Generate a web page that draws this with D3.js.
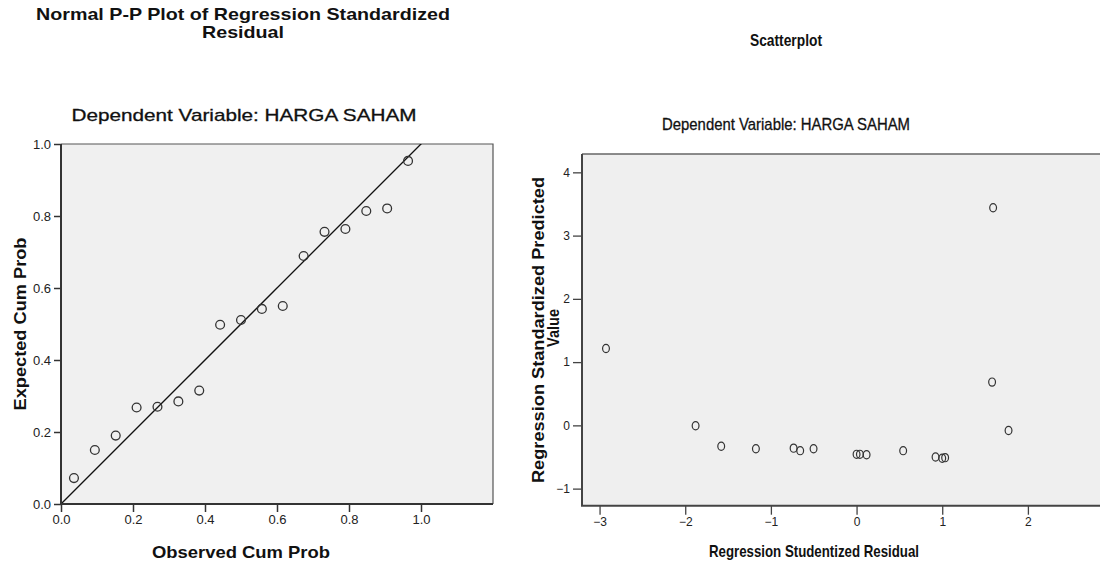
<!DOCTYPE html>
<html>
<head>
<meta charset="utf-8">
<script src="https://cdn.jsdelivr.net/npm/d3@7"></script>
<style>
  body { margin: 0; background: #fff; }
  svg { display: block; }
  text { font-family: "Liberation Sans", Arial, sans-serif; fill: #111; }
  .narrow text, text.narrow { font-family: "Liberation Sans Narrow", "Arial Narrow", "Liberation Sans", Arial, sans-serif; }
</style>
</head>
<body>
<div id="chart"></div>
<script>

// ─── DATA ───────────────────────────────────────────────────────────────────────
// P-P plot (observed vs expected cum prob)
let observedCumProb = [0.036, 0.094, 0.152, 0.210, 0.268, 0.326, 0.384, 0.442, 0.500,
                       0.558, 0.616, 0.674, 0.732, 0.790, 0.848, 0.906, 0.964];
let expectedCumProb = [0.072, 0.150, 0.190, 0.268, 0.270, 0.285, 0.315, 0.498, 0.511,
                       0.542, 0.550, 0.689, 0.756, 0.764, 0.814, 0.821, 0.953];
let ppTicks = [0, 0.2, 0.4, 0.6, 0.8, 1.0];

// scatterplot (studentized residual vs standardized predicted)
let studentizedResidual = [-2.925, -1.879, -1.580, -1.175, -0.735, -0.658, -0.502, 0.000, 0.039,
                           0.117, 0.544, 0.922, 1.000, 1.034, 1.582, 1.594, 1.774];
let standardizedPredicted = [1.216, -0.006, -0.330, -0.370, -0.360, -0.400, -0.370, -0.458, -0.458,
                             -0.464, -0.400, -0.500, -0.520, -0.510, 0.684, 3.440, -0.080];
let scatterXTicks = [-3, -2, -1, 0, 1, 2];
let scatterYTicks = [-1, 0, 1, 2, 3, 4];

// ─── SVG CANVAS ─────────────────────────────────────────────────────────────────
let width = 1100, height = 562;

let svg = d3.select('#chart')
    .append('svg')
    .attr('width', width)
    .attr('height', height)
    .style('background', '#fff');

// ─── LEFT CHART : NORMAL P-P PLOT ───────────────────────────────────────────────
let ppBox = {left: 61, right: 493, top: 144, bottom: 504};

let xPP = d3.scaleLinear().domain([0, 1.2]).range([ppBox.left, ppBox.right]);
let yPP = d3.scaleLinear().domain([0, 1]).range([ppBox.bottom, ppBox.top]);

let pp = svg.append('g');

// plot background
pp.append('rect')
    .attr('x', ppBox.left)
    .attr('y', ppBox.top)
    .attr('width', ppBox.right - ppBox.left)
    .attr('height', ppBox.bottom - ppBox.top)
    .attr('fill', '#f0f0f0');

// top / right frame
pp.append('path')
    .attr('d', `M${ppBox.left},${ppBox.top}H${ppBox.right}V${ppBox.bottom}`)
    .attr('fill', 'none')
    .attr('stroke', '#555')
    .attr('stroke-width', 1.2);

// clip for the diagonal
svg.append('clipPath').attr('id', 'ppClip')
    .append('rect')
    .attr('x', ppBox.left).attr('y', ppBox.top)
    .attr('width', ppBox.right - ppBox.left)
    .attr('height', ppBox.bottom - ppBox.top);

// reference line y = x
pp.append('line')
    .attr('clip-path', 'url(#ppClip)')
    .attr('x1', xPP(0)).attr('y1', yPP(0))
    .attr('x2', xPP(1.2)).attr('y2', yPP(1.2))
    .attr('stroke', '#111')
    .attr('stroke-width', 1.3);

// Y axis
let yAxisPP = d3.axisLeft(yPP).tickValues(ppTicks).tickFormat(d3.format('.1f')).tickSize(7).tickPadding(3);
pp.append('g')
    .attr('transform', `translate(${ppBox.left},0)`)
    .call(yAxisPP)
    .call(g => g.select('.domain').remove())
    .call(g => g.selectAll('line').attr('stroke', '#333').attr('stroke-width', 1.5))
    .call(g => g.selectAll('text').style('font-size', '13px').style('fill', '#222'));

// X axis
let xAxisPP = d3.axisBottom(xPP).tickValues(ppTicks).tickFormat(d3.format('.1f')).tickSize(8).tickPadding(3);
pp.append('g')
    .attr('transform', `translate(0,${ppBox.bottom})`)
    .call(xAxisPP)
    .call(g => g.select('.domain').remove())
    .call(g => g.selectAll('line').attr('stroke', '#333').attr('stroke-width', 1.5))
    .call(g => g.selectAll('text').style('font-size', '13px').style('fill', '#222'));

// axis lines (thicker, dark)
pp.append('path')
    .attr('d', `M${ppBox.left},${ppBox.top}V${ppBox.bottom}H${ppBox.right}`)
    .attr('fill', 'none')
    .attr('stroke', '#333')
    .attr('stroke-width', 2);

// points
pp.selectAll('circle')
    .data(observedCumProb)
    .enter().append('circle')
    .attr('cx', d => xPP(d))
    .attr('cy', (d, i) => yPP(expectedCumProb[i]))
    .attr('r', 4.4)
    .attr('fill', 'none')
    .attr('stroke', '#333')
    .attr('stroke-width', 1.3);

// ─── LEFT TEXT LABELS ───────────────────────────────────────────────────────────
pp.append('text')
    .attr('x', 243).attr('y', 20)
    .attr('text-anchor', 'middle')
    .attr('textLength', 414).attr('lengthAdjust', 'spacingAndGlyphs')
    .style('font-size', '17px').style('font-weight', 'bold')
    .text('Normal P-P Plot of Regression Standardized');

pp.append('text')
    .attr('x', 243).attr('y', 38)
    .attr('text-anchor', 'middle')
    .attr('textLength', 82).attr('lengthAdjust', 'spacingAndGlyphs')
    .style('font-size', '17px').style('font-weight', 'bold')
    .text('Residual');

pp.append('text')
    .attr('x', 244).attr('y', 121)
    .attr('text-anchor', 'middle')
    .attr('textLength', 345).attr('lengthAdjust', 'spacingAndGlyphs')
    .style('font-size', '17px')
    .style('stroke', '#111').style('stroke-width', 0.3)
    .text('Dependent Variable: HARGA SAHAM');

// X LABEL
pp.append('text')
    .attr('x', 241).attr('y', 558)
    .attr('text-anchor', 'middle')
    .attr('textLength', 178).attr('lengthAdjust', 'spacingAndGlyphs')
    .style('font-size', '17px').style('font-weight', 'bold')
    .text('Observed Cum Prob');

// Y LABEL
pp.append('text')
    .attr('transform', `translate(26, 324) rotate(-90)`)
    .attr('text-anchor', 'middle')
    .attr('textLength', 173).attr('lengthAdjust', 'spacingAndGlyphs')
    .style('font-size', '17px').style('font-weight', 'bold')
    .text('Expected Cum Prob');

// ─── RIGHT CHART : SCATTERPLOT ──────────────────────────────────────────────────
let scBox = {left: 582, right: 1105, top: 154, bottom: 505.7};

let xSc = d3.scaleLinear().domain([-3.205, 2.9]).range([scBox.left, scBox.right]);
let ySc = d3.scaleLinear().domain([-1.27, 4.29]).range([scBox.bottom, scBox.top]);

let sc = svg.append('g').attr('class', 'narrow');

sc.append('rect')
    .attr('x', scBox.left)
    .attr('y', scBox.top)
    .attr('width', scBox.right - scBox.left)
    .attr('height', scBox.bottom - scBox.top)
    .attr('fill', '#efefef');

sc.append('path')
    .attr('d', `M${scBox.left},${scBox.top}H${scBox.right}`)
    .attr('fill', 'none')
    .attr('stroke', '#666')
    .attr('stroke-width', 1.5);

// Y axis
let yAxisSc = d3.axisLeft(ySc).tickValues(scatterYTicks).tickFormat(d3.format('d')).tickSize(9).tickPadding(3);
sc.append('g')
    .attr('transform', `translate(${scBox.left},0)`)
    .call(yAxisSc)
    .call(g => g.select('.domain').remove())
    .call(g => g.selectAll('line').attr('stroke', '#444').attr('stroke-width', 1.3))
    .call(g => g.selectAll('text').style('font-size', '12px').style('fill', '#222'));

// X axis
let xAxisSc = d3.axisBottom(xSc).tickValues(scatterXTicks).tickFormat(d3.format('d')).tickSize(9).tickPadding(3);
sc.append('g')
    .attr('transform', `translate(0,${scBox.bottom})`)
    .call(xAxisSc)
    .call(g => g.select('.domain').remove())
    .call(g => g.selectAll('line').attr('stroke', '#444').attr('stroke-width', 1.3))
    .call(g => g.selectAll('text').style('font-size', '12px').style('fill', '#222'));

sc.append('path')
    .attr('d', `M${scBox.left},${scBox.top}V${scBox.bottom}H${scBox.right}`)
    .attr('fill', 'none')
    .attr('stroke', '#444')
    .attr('stroke-width', 2);

// points (slightly tall ellipses, like the source)
sc.selectAll('ellipse')
    .data(studentizedResidual)
    .enter().append('ellipse')
    .attr('cx', d => xSc(d))
    .attr('cy', (d, i) => ySc(standardizedPredicted[i]))
    .attr('rx', 3.4)
    .attr('ry', 4.1)
    .attr('fill', 'none')
    .attr('stroke', '#333')
    .attr('stroke-width', 1.2);

// ─── RIGHT TEXT LABELS ──────────────────────────────────────────────────────────
sc.append('text')
    .attr('x', 786).attr('y', 46)
    .attr('text-anchor', 'middle')
    .attr('textLength', 72).attr('lengthAdjust', 'spacingAndGlyphs')
    .style('font-size', '16px').style('font-weight', 'bold')
    .text('Scatterplot');

sc.append('text')
    .attr('x', 786).attr('y', 130)
    .attr('text-anchor', 'middle')
    .attr('textLength', 248).attr('lengthAdjust', 'spacingAndGlyphs')
    .style('font-size', '17px')
    .style('stroke', '#111').style('stroke-width', 0.3)
    .text('Dependent Variable: HARGA SAHAM');

sc.append('text')
    .attr('x', 814).attr('y', 557)
    .attr('text-anchor', 'middle')
    .attr('textLength', 210).attr('lengthAdjust', 'spacingAndGlyphs')
    .style('font-size', '17px').style('font-weight', 'bold')
    .text('Regression Studentized Residual');

sc.append('text')
    .attr('transform', `translate(544, 330) rotate(-90)`)
    .attr('text-anchor', 'middle')
    .attr('textLength', 306).attr('lengthAdjust', 'spacingAndGlyphs')
    .style('font-size', '16px').style('font-weight', 'bold')
    .text('Regression Standardized Predicted');

sc.append('text')
    .attr('transform', `translate(559, 328) rotate(-90)`)
    .attr('text-anchor', 'middle')
    .attr('textLength', 38).attr('lengthAdjust', 'spacingAndGlyphs')
    .style('font-size', '16px').style('font-weight', 'bold')
    .text('Value');

</script>
</body>
</html>
